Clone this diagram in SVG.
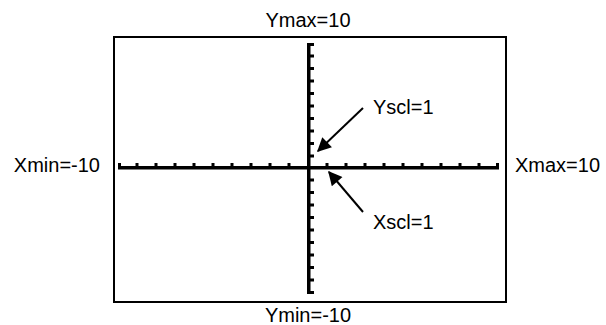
<svg xmlns="http://www.w3.org/2000/svg" width="606" height="325" viewBox="0 0 606 325">
<style>
text{font-family:"Liberation Sans",Arial,sans-serif;font-size:20px;fill:#000}
.tick{fill:#000}
.arrow{stroke:#000;stroke-width:2;fill:none}
</style>
<defs>
<marker id="ah" viewBox="0 0 10 10" refX="9" refY="5" markerWidth="8" markerHeight="7" markerUnits="strokeWidth" orient="auto">
<path d="M0,0 L10,5 L0,10 z" fill="#000"/>
</marker>
<rect id="xt" class="tick" x="-1.5" y="163" width="3" height="4"/>
<rect id="yt" class="tick" x="309" y="-1.5" width="5" height="3"/>
</defs>
<rect id="window" x="114" y="37" width="392" height="265" fill="#fff" stroke="#000" stroke-width="2"/>
<g id="xaxis">
<rect x="118" y="166" width="381" height="3.5" fill="#000"/>
<use href="#xt" x="119.5"/><use href="#xt" x="137"/><use href="#xt" x="156"/><use href="#xt" x="175"/><use href="#xt" x="194"/><use href="#xt" x="213"/><use href="#xt" x="232"/><use href="#xt" x="251"/><use href="#xt" x="270"/><use href="#xt" x="289"/>
<use href="#xt" x="327"/><use href="#xt" x="346"/><use href="#xt" x="365"/><use href="#xt" x="384"/><use href="#xt" x="403"/><use href="#xt" x="422"/><use href="#xt" x="441"/><use href="#xt" x="460"/><use href="#xt" x="479"/><use href="#xt" x="497.5"/>
</g>
<g id="yaxis">
<rect x="307" y="43" width="3.5" height="251" fill="#000"/>
<use href="#yt" y="44.5"/><use href="#yt" y="56"/><use href="#yt" y="68.5"/><use href="#yt" y="81"/><use href="#yt" y="93.5"/><use href="#yt" y="106"/><use href="#yt" y="118.5"/><use href="#yt" y="131"/><use href="#yt" y="143.5"/><use href="#yt" y="156"/>
<use href="#yt" y="180"/><use href="#yt" y="192.5"/><use href="#yt" y="205"/><use href="#yt" y="217.5"/><use href="#yt" y="230"/><use href="#yt" y="242.5"/><use href="#yt" y="255"/><use href="#yt" y="267.5"/><use href="#yt" y="280"/><use href="#yt" y="292.5"/>
</g>
<g id="connectors">
<line class="arrow" x1="363" y1="108" x2="318" y2="151" marker-end="url(#ah)"/>
<line class="arrow" x1="363" y1="212" x2="329" y2="172" marker-end="url(#ah)"/>
</g>
<g id="label-ymax"><text x="308" y="27" text-anchor="middle">Ymax=10</text></g>
<g id="label-ymin"><text x="308" y="322" text-anchor="middle">Ymin=-10</text></g>
<g id="label-xmin"><text x="100" y="172" text-anchor="end">Xmin=-10</text></g>
<g id="label-xmax"><text x="515" y="172">Xmax=10</text></g>
<g id="label-yscl"><text x="373" y="114">Yscl=1</text></g>
<g id="label-xscl"><text x="373" y="229">Xscl=1</text></g>
</svg>
